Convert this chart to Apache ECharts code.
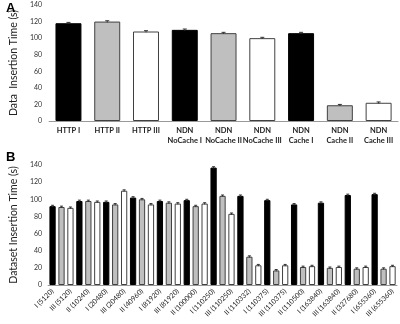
<!DOCTYPE html>
<html>
<head>
<meta charset="utf-8">
<script src="https://cdn.jsdelivr.net/npm/echarts@6/dist/echarts.min.js"></script>
<style>
  html, body { margin: 0; padding: 0; background: #fff; }
  #chart { width: 400px; height: 324px; }
</style>
</head>
<body>
<div id="chart"></div>
<script>
// panel A: data insertion time
const catsA = ['HTTP I', 'HTTP II', 'HTTP III', 'NDN\nNoCache I', 'NDN\nNoCache II', 'NDN\nNoCache III', 'NDN\nCache I', 'NDN\nCache II', 'NDN\nCache III'];
const valuesA = [118, 120, 108, 110, 106, 100, 106, 19, 22];
const errA = [1, 1, 1, 1, 1, 1, 1, 1, 1];
const typeA = [0, 1, 2, 0, 1, 2, 0, 1, 2];

// panel B: dataset insertion time, three bars (I, II, III) per dataset size
const sizesB = [5120, 10240, 20480, 40960, 81920, 100000, 110250, 110332, 110375, 110500, 163840, 327680, 655360];
const typesB = ['I', 'II', 'III'];
const valuesB = [
  92, 91, 90,
  98, 98, 97,
  97, 94, 110,
  102, 100, 94,
  98, 96, 95,
  99, 92, 95,
  137, 104, 83,
  104, 33, 23,
  99, 17, 23,
  94, 21, 22,
  96, 20, 21,
  105, 19, 21,
  106, 19, 22
];
const errB = [
  1, 1, 1, 1, 1, 1, 1, 1, 1, 1, 1, 1, 1,
  1, 1, 1, 1, 1, 1, 1, 1, 1, 1, 1, 1, 1,
  1, 1, 1, 1, 1, 1, 1, 1, 1, 1, 1, 1, 1
];
const yTicks = [0, 20, 40, 60, 80, 100, 120, 140];

const catsB = [];
sizesB.forEach(s => typesB.forEach(t => catsB.push(t + ' (' + s + ')')));

const fills = ['#000000', '#bfbfbf', '#ffffff'];
const font = 'Lato, "Open Sans", sans-serif';

function barData(vals, typeOf) {
  return vals.map((v, i) => ({
    value: v,
    itemStyle: { color: fills[typeOf(i)], borderColor: typeOf(i) === 0 ? '#000' : '#404040', borderWidth: 1 }
  }));
}

function errData(vals, errs) {
  return vals.map((v, i) => [i, v, errs[i]]);
}

function renderErr(capW) {
  return function (params, api) {
    const x = api.value(0), y = api.value(1), e = api.value(2);
    const hi = api.coord([x, y + e]);
    const lo = api.coord([x, y - e]);
    const style = { stroke: '#333', lineWidth: 1 };
    return {
      type: 'group',
      children: [
        { type: 'line', shape: { x1: hi[0], y1: hi[1], x2: lo[0], y2: lo[1] }, style },
        { type: 'line', shape: { x1: hi[0] - capW, y1: hi[1], x2: hi[0] + capW, y2: hi[1] }, style }
      ]
    };
  };
}

const chart = echarts.init(document.getElementById('chart'));
chart.setOption({
  animation: false,
  textStyle: { fontFamily: font },
  title: [
    { text: 'A', left: 1, top: -3, textStyle: { fontSize: 13, fontWeight: 'bold', color: '#000', fontFamily: 'Liberation Sans' } },
    { text: 'B', left: 1, top: 146, textStyle: { fontSize: 13, fontWeight: 'bold', color: '#000', fontFamily: 'Liberation Sans' } }
  ],
  grid: [
    { left: 45, right: 2, top: 5, height: 116 },
    { left: 32, right: 3, top: 165, height: 120 }
  ],
  xAxis: [
    {
      gridIndex: 0, type: 'category', data: catsA,
      axisLine: { lineStyle: { color: '#999' } },
      axisTick: { show: false },
      axisLabel: { fontSize: 7.5, fontWeight: 'bold', color: '#222', lineHeight: 10, margin: 5, interval: 0 }
    },
    {
      gridIndex: 1, type: 'category', data: catsB,
      axisLine: { lineStyle: { color: '#999' } },
      axisTick: { show: false },
      axisLabel: { fontSize: 7, color: '#222', rotate: 45, interval: 1, margin: 5 }
    }
  ],
  yAxis: [
    {
      gridIndex: 0, type: 'value', min: yTicks[0], max: yTicks[yTicks.length - 1], interval: 20,
      name: 'Data  Insertion Time (s)', nameLocation: 'middle', nameGap: 28,
      nameTextStyle: { fontSize: 10.5, color: '#222' },
      splitLine: { show: false },
      axisLabel: { fontSize: 7, color: '#333', margin: 7 }
    },
    {
      gridIndex: 1, type: 'value', min: yTicks[0], max: yTicks[yTicks.length - 1], interval: 20,
      name: 'Dataset Insertion Time (s)', nameLocation: 'middle', nameGap: 18,
      nameTextStyle: { fontSize: 10.5, color: '#222' },
      splitLine: { show: false },
      axisLabel: { fontSize: 7, color: '#333', margin: 6 }
    }
  ],
  series: [
    {
      type: 'bar', xAxisIndex: 0, yAxisIndex: 0, barCategoryGap: '33%',
      data: barData(valuesA, i => typeA[i])
    },
    {
      type: 'custom', xAxisIndex: 0, yAxisIndex: 0, z: 5,
      renderItem: renderErr(2), data: errData(valuesA, errA)
    },
    {
      type: 'bar', xAxisIndex: 1, yAxisIndex: 1, barCategoryGap: '30%',
      data: barData(valuesB, i => i % 3)
    },
    {
      type: 'custom', xAxisIndex: 1, yAxisIndex: 1, z: 5,
      renderItem: renderErr(1.5), data: errData(valuesB, errB)
    }
  ]
});
</script>
</body>
</html>
